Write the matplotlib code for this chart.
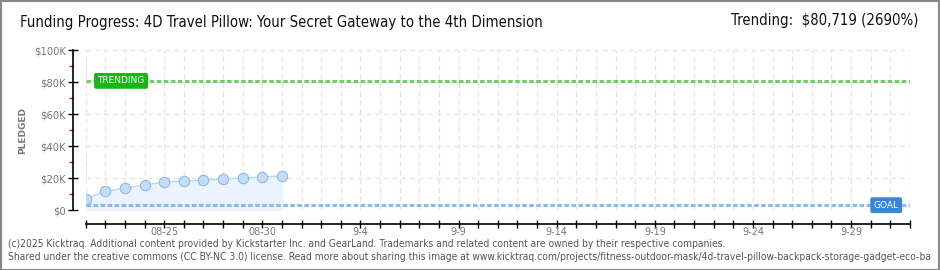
import matplotlib
matplotlib.use("Agg")
import matplotlib.pyplot as plt
import matplotlib.dates as mdates
from matplotlib.patches import Rectangle
import datetime as dt

# pledged data (USD), one point per day starting 08-21
start = dt.date(2025, 8, 21)
end = dt.date(2025, 10, 2)
pledged = [7100, 11600, 13700, 15600, 17500, 18100, 18700, 19400, 20000, 20600, 21300]
trending = 80719
goal = 3000
tick_days = [dt.date(2025, 8, 25), dt.date(2025, 8, 30), dt.date(2025, 9, 4), dt.date(2025, 9, 9),
             dt.date(2025, 9, 14), dt.date(2025, 9, 19), dt.date(2025, 9, 24), dt.date(2025, 9, 29)]
tick_labels = ["08-25", "08-30", "9-4", "9-9", "9-14", "9-19", "9-24", "9-29"]
title = "Funding Progress: 4D Travel Pillow: Your Secret Gateway to the 4th Dimension"
footer1 = "(c)2025 Kicktraq. Additional content provided by Kickstarter Inc. and GearLand. Trademarks and related content are owned by their respective companies."
footer2 = ("Shared under the creative commons (CC BY-NC 3.0) license. Read more about sharing this image at "
           "www.kicktraq.com/projects/fitness-outdoor-mask/4d-travel-pillow-backpack-storage-gadget-eco-ba")

dates = [start + dt.timedelta(days=i) for i in range(len(pledged))]

fig = plt.figure(figsize=(9.4, 2.7), dpi=100)
ax = fig.add_axes([85.7 / 940, 60 / 270, (910 - 85.7) / 940, 160 / 270])

ax.set_xlim(mdates.date2num(start), mdates.date2num(end))
ax.set_ylim(0, 100000)

# grid
ax.set_xticks(mdates.date2num(tick_days))
ax.set_xticklabels(tick_labels)
ax.xaxis.set_minor_locator(mdates.DayLocator())
ax.set_yticks(range(0, 100001, 20000))
ax.set_yticklabels(["$0", "$20K", "$40K", "$60K", "$80K", "$100K"])
ax.set_yticks(range(10000, 100000, 20000), minor=True)
ax.grid(which="both", axis="x", color="#e4e4e4", linestyle=(0, (4, 3)), linewidth=0.9)
ax.grid(which="major", axis="y", color="#e4e4e4", linestyle=(0, (4, 3)), linewidth=0.9)
ax.set_axisbelow(True)

for s in ["top", "right"]:
    ax.spines[s].set_visible(False)
ax.spines["left"].set_position(("outward", 9))
ax.spines["bottom"].set_position(("outward", 10))
ax.spines["left"].set_linewidth(1.2)
ax.spines["bottom"].set_linewidth(1.2)

ax.tick_params(axis="x", which="both", direction="inout", length=6, width=1, colors="black",
               labelcolor="#777777", labelsize=7, pad=-1)
ax.tick_params(axis="y", which="major", direction="inout", length=7, width=1, colors="black",
               labelcolor="#777777", labelsize=7.2, pad=2)
ax.tick_params(axis="y", which="minor", direction="out", length=3, width=1, colors="red")

ax.set_ylabel("PLEDGED", color="#777777", fontsize=6.5, fontweight="bold", labelpad=5)

# trending and goal lines
ax.axhline(trending, color="#74cc6a", linestyle=(0, (1.5, 0.8)), linewidth=2.2, zorder=2)
ax.axhline(goal, color="#8bbbeb", linestyle=(0, (1.5, 0.8)), linewidth=2.2, zorder=2)
ax.text(mdates.date2num(start) + 0.6, trending, "TRENDING", color="white", fontsize=6.5,
        ha="left", va="center", zorder=5,
        bbox=dict(boxstyle="round,pad=0.3,rounding_size=0.15", fc="#19b519", ec="#19b519"))
ax.text(mdates.date2num(end) - 1.85, goal, "GOAL", color="white", fontsize=6.5,
        ha="left", va="center", zorder=5,
        bbox=dict(boxstyle="round,pad=0.3,rounding_size=0.15", fc="#3a86d6", ec="#3a86d6"))

# pledged series
xd = mdates.date2num(dates)
ax.fill_between(xd, pledged, 0, color="#ebf3fc", zorder=1)
ax.plot(xd, pledged, color="#b9d6f3", linewidth=1, marker="o", markersize=7.5,
        markerfacecolor="#c3ddf7", markeredgecolor="#93b9e0", markeredgewidth=0.8, zorder=3)

# header and footer
fig.text(20 / 940, 1 - 22 / 270, title, fontsize=10.7, family="DejaVu Sans", stretch="condensed",
         ha="left", va="center", color="#111111")
fig.text(918 / 940, 1 - 21 / 270, "Trending:  $80,719 (2690%)", fontsize=10.7,
         family="DejaVu Sans", stretch="condensed", ha="right", va="center", color="#111111")
fig.text(8 / 940, 1 - 244 / 270, footer1, fontsize=7.4, family="DejaVu Sans", stretch="condensed",
         ha="left", va="center", color="#555555")
fig.text(8 / 940, 1 - 257 / 270, footer2, fontsize=7.4, family="DejaVu Sans", stretch="condensed",
         ha="left", va="center", color="#555555")

fig.patches.append(Rectangle((0.5 / 940, 0.5 / 270), 938.5 / 940, 268.5 / 270, transform=fig.transFigure,
                             fill=False, edgecolor="#888888", linewidth=1.5))

fig.savefig("out.png", dpi=100)
